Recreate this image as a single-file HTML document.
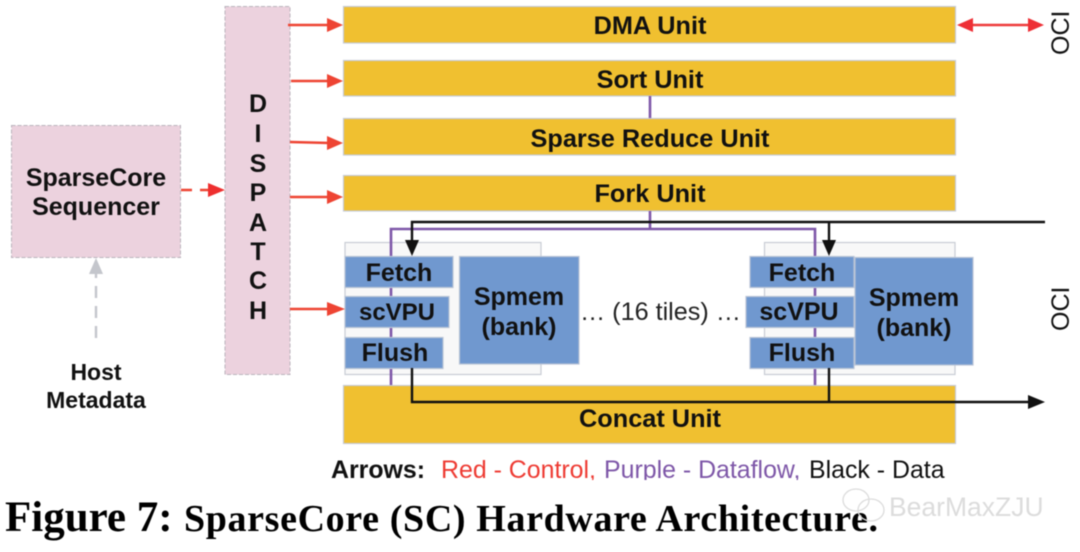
<!DOCTYPE html>
<html>
<head>
<meta charset="utf-8">
<style>
html,body{margin:0;padding:0;background:#fff;overflow:hidden;}
svg{display:block;filter:blur(0.4px);}
text{font-family:"Liberation Sans",sans-serif;}
.b{font-weight:bold;fill:#111;text-anchor:middle;}
.y{fill:#f0c030;stroke:#c6cbd6;stroke-width:1.2;}
.u{fill:#7098cf;stroke:#b9c4d6;stroke-width:1.2;}
.t{fill:#f8f8f8;stroke:#c8ccd4;stroke-width:1.2;}
.p{fill:#ecd2de;stroke:#b9b3bc;stroke-width:1;stroke-dasharray:4 2;}
.r{stroke:#ee4433;stroke-width:2.6;fill:none;}
.v{stroke:#7e57a8;stroke-width:2.6;fill:none;}
.k{stroke:#111;stroke-width:2.4;fill:none;}
</style>
</head>
<body>
<svg width="1080" height="552" viewBox="0 0 1080 552" xmlns="http://www.w3.org/2000/svg">
<rect width="1080" height="552" fill="#fff"/>

<!-- Pink blocks -->
<rect class="p" x="11.500" y="125.500" width="169" height="132"/>
<rect class="p" x="225" y="6.500" width="65" height="368"/>

<!-- Yellow units -->
<rect class="y" x="343.500" y="6.500" width="612" height="36.500"/>
<rect class="y" x="343.500" y="60.500" width="612" height="35.500"/>
<rect class="y" x="343.500" y="118.500" width="612" height="36.500"/>
<rect class="y" x="343.500" y="175.500" width="612" height="35.500"/>
<rect class="y" x="343.500" y="385.500" width="612" height="58"/>

<!-- Tile backgrounds -->
<rect class="t" x="345" y="242.500" width="196" height="132"/>
<rect class="t" x="764.500" y="242.500" width="190.500" height="132"/>

<!-- Purple dataflow -->
<path class="v" d="M650 96V118"/>
<path class="v" d="M650 211V229"/>
<path class="v" d="M391 385V229H815V385"/>

<!-- Tile blocks -->
<rect class="u" x="345" y="256.500" width="108" height="31"/>
<rect class="u" x="345" y="296.500" width="104" height="31"/>
<rect class="u" x="345" y="337.500" width="98" height="31"/>
<rect class="u" x="459.500" y="256.500" width="119.500" height="107.500"/>
<rect class="u" x="855" y="257.500" width="118" height="107.500"/>
<rect class="u" x="750" y="256.500" width="104" height="31"/>
<rect class="u" x="746" y="296.500" width="108" height="31"/>
<rect class="u" x="750" y="337.500" width="104" height="31"/>

<!-- Black data -->
<path class="k" d="M1045 222H412V242"/>
<path class="k" d="M829 222V242"/>
<polygon points="405,240 419,240 412,256" fill="#111"/>
<polygon points="822,240 836,240 829,256" fill="#111"/>
<path class="k" d="M412 368V402H1030"/>
<path class="k" d="M829 368V402"/>
<polygon points="1028,395 1045,402 1028,409" fill="#111"/>

<!-- Red control -->
<path class="r" d="M288 25H330"/><polygon points="327,18 343,25 327,32" fill="#ee4433"/>
<path class="r" d="M291 81H330"/><polygon points="327,74 343,81 327,88" fill="#ee4433"/>
<path class="r" d="M290 142L330 143"/><polygon points="327,136 343,143 327,150" fill="#ee4433"/>
<path class="r" d="M290 197H330"/><polygon points="327,190 343,197 327,204" fill="#ee4433"/>
<path class="r" d="M290 309H332"/><polygon points="327,302 345,309 327,316" fill="#ee4433"/>
<path class="r" d="M181 190H192M200 190H212"/><polygon points="208,183 225,190 208,197" fill="#ee2f2f"/>
<path d="M970 25H1030" stroke="#ee3b3b" stroke-width="2.6" fill="none"/>
<polygon points="957,25 973,18 973,32" fill="#ee2f35"/>
<polygon points="1044,25 1028,18 1028,32" fill="#ee2f35"/>

<!-- Gray dashed -->
<path d="M96 338V268" stroke="#c4c6cc" stroke-width="2.4" stroke-dasharray="12 8" fill="none"/>
<polygon points="89,274 96,258 103,274" fill="#c4c6cc"/>

<!-- Labels -->
<text class="b" x="96" y="186" font-size="25">SparseCore</text>
<text class="b" x="96" y="215" font-size="25">Sequencer</text>
<text class="b" x="258" y="112" font-size="25">D</text>
<text class="b" x="258" y="142" font-size="25">I</text>
<text class="b" x="258" y="172" font-size="25">S</text>
<text class="b" x="258" y="201" font-size="25">P</text>
<text class="b" x="258" y="231" font-size="25">A</text>
<text class="b" x="258" y="260" font-size="25">T</text>
<text class="b" x="258" y="289" font-size="25">C</text>
<text class="b" x="258" y="319" font-size="25">H</text>

<text class="b" x="650" y="34" font-size="25.300">DMA Unit</text>
<text class="b" x="650" y="88" font-size="25.300">Sort Unit</text>
<text class="b" x="650" y="147" font-size="25.300">Sparse Reduce Unit</text>
<text class="b" x="650" y="202" font-size="25.300">Fork Unit</text>
<text class="b" x="650" y="427" font-size="25.300">Concat Unit</text>

<text class="b" x="399" y="281" font-size="25">Fetch</text>
<text class="b" x="397" y="320" font-size="24">scVPU</text>
<text class="b" x="395" y="361" font-size="25">Flush</text>
<text class="b" x="519" y="305" font-size="25">Spmem</text>
<text class="b" x="519" y="335" font-size="25">(bank)</text>
<text class="b" x="802" y="281" font-size="25">Fetch</text>
<text class="b" x="799" y="320" font-size="25">scVPU</text>
<text class="b" x="802" y="361" font-size="25">Flush</text>
<text class="b" x="914" y="306" font-size="25">Spmem</text>
<text class="b" x="914" y="336" font-size="25">(bank)</text>

<text x="580" y="320" font-size="25.200" fill="#222">… (16 tiles) …</text>

<text class="b" x="96" y="380" font-size="23">Host</text>
<text class="b" x="96" y="408" font-size="23">Metadata</text>

<text transform="translate(1069,55) rotate(-90)" font-size="25" fill="#111">OCI</text>
<text transform="translate(1069,331) rotate(-90)" font-size="25" fill="#111">OCI</text>

<text x="331" y="478" font-size="24.900"><tspan font-weight="bold" fill="#111">Arrows:</tspan><tspan x="441" fill="#ee3b33">Red - Control,</tspan><tspan x="604" fill="#7e57a8">Purple - Dataflow,</tspan><tspan x="809" fill="#111">Black - Data</tspan></text>
<rect x="325" y="480" width="640" height="8" fill="#fff"/>

<text x="5" y="531" font-size="43" font-weight="bold" fill="#000" style="font-family:'Liberation Serif',serif">Figure 7:</text>
<text x="184" y="531" font-size="38" font-weight="bold" fill="#000" textLength="694" lengthAdjust="spacing" style="font-family:'Liberation Serif',serif">SparseCore (SC) Hardware Architecture.</text>

<!-- Watermark -->
<g fill="none" stroke="#dcdcdc" stroke-width="1.3">
<ellipse cx="856" cy="500" rx="13" ry="11"/>
<ellipse cx="871" cy="510" rx="13" ry="11"/>
</g>
<text x="889" y="516" font-size="26.500" fill="#dcdcdc">BearMaxZJU</text>
</svg>
</body>
</html>
